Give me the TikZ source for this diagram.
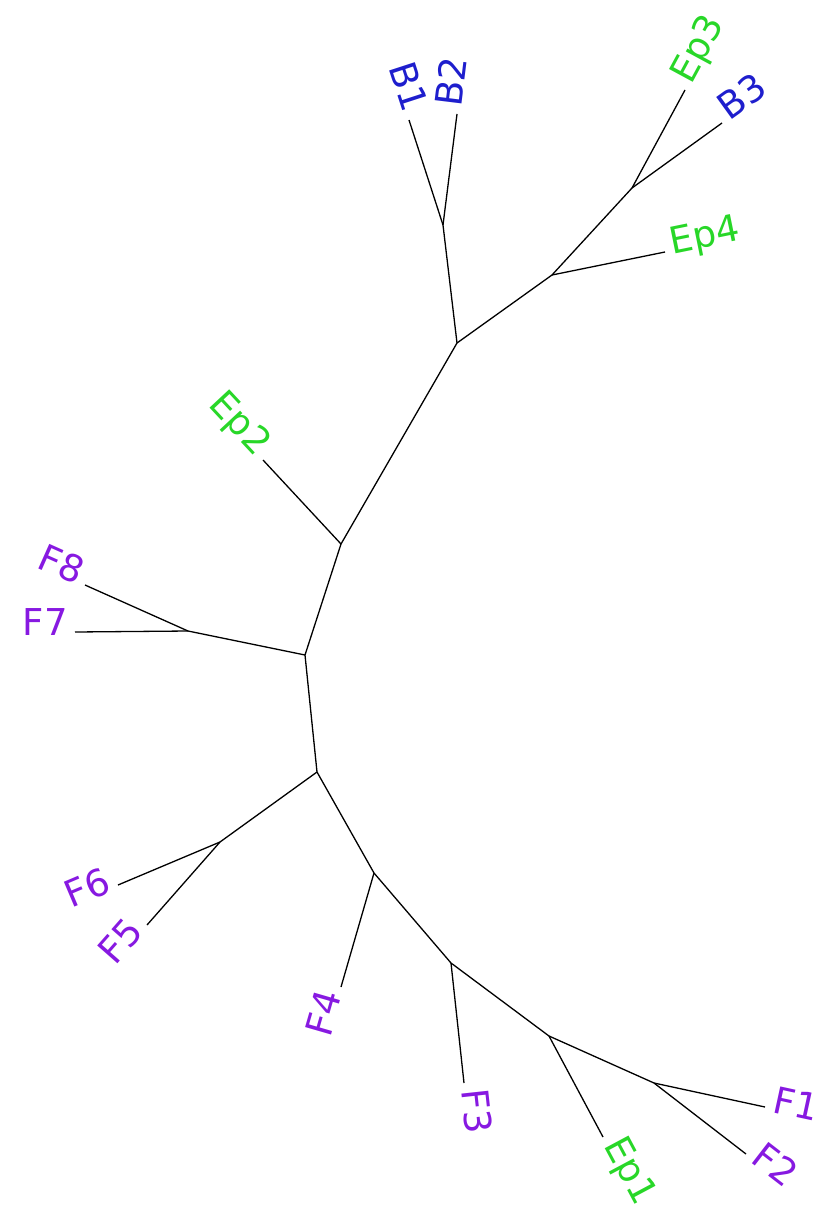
\documentclass[tikz,border=0pt]{standalone}
\usepackage{fontspec}
\setmainfont{DejaVu Sans}
\definecolor{bclr}{RGB}{30,30,205}
\definecolor{epclr}{RGB}{40,215,40}
\definecolor{fclr}{RGB}{135,25,225}
\tikzset{
  branch/.style={line width=1.3pt, black},
  leaf/.style={font=\fontsize{37}{44}\selectfont, inner sep=7pt, text height=0.73em, text depth=0pt}
}
\begin{document}
\begin{tikzpicture}[x=1pt, y=-1pt]
  \useasboundingbox (0,0) rectangle (825,1215);
  % inner nodes
  \coordinate (root) at (305,655);
  \coordinate (nEp2) at (341,544);
  \coordinate (nB) at (457,343);
  \coordinate (nB12) at (443,225);
  \coordinate (nEp4) at (552,275);
  \coordinate (nEp3) at (632,188);
  \coordinate (nF78) at (188,631);
  \coordinate (nLow) at (317,772);
  \coordinate (nF56) at (220,842);
  \coordinate (nF4) at (374,873);
  \coordinate (nF3) at (451,963);
  \coordinate (nEp1) at (549,1036);
  \coordinate (nF12) at (654,1083);
  % tips
  \coordinate (tB1) at (409,120);
  \coordinate (tB2) at (457,114);
  \coordinate (tEp3) at (685,90);
  \coordinate (tB3) at (722,123);
  \coordinate (tEp4) at (665,252);
  \coordinate (tEp2) at (263,460);
  \coordinate (tF8) at (85,585);
  \coordinate (tF7) at (75,632);
  \coordinate (tF6) at (118,885);
  \coordinate (tF5) at (147,925);
  \coordinate (tF4) at (341,987);
  \coordinate (tF3) at (464,1083);
  \coordinate (tEp1) at (603,1137);
  \coordinate (tF2) at (746,1154);
  \coordinate (tF1) at (765,1107);
  % branches
  \draw[branch] (nLow) -- (root) -- (nEp2) -- (nB) -- (nEp4) -- (nEp3) -- (tEp3);
  \draw[branch] (nB) -- (nB12) -- (tB1);
  \draw[branch] (nB12) -- (tB2);
  \draw[branch] (nEp3) -- (tB3);
  \draw[branch] (nEp4) -- (tEp4);
  \draw[branch] (nEp2) -- (tEp2);
  \draw[branch] (root) -- (nF78) -- (tF8);
  \draw[branch] (nF78) -- (tF7);
  \draw[branch] (nLow) -- (nF56) -- (tF6);
  \draw[branch] (nF56) -- (tF5);
  \draw[branch] (nLow) -- (nF4) -- (nF3) -- (nEp1) -- (nF12) -- (tF1);
  \draw[branch] (nF4) -- (tF4);
  \draw[branch] (nF3) -- (tF3);
  \draw[branch] (nEp1) -- (tEp1);
  \draw[branch] (nF12) -- (tF2);
  % labels
  \foreach \n/\r/\an/\c in {B1/-72/east/bclr, B2/83/west/bclr, Ep3/61.6/west/epclr,
      B3/35.8/west/bclr, Ep4/11.5/west/epclr, Ep2/-47/east/epclr, F8/-24/east/fclr,
      F7/0/east/fclr, F6/23/east/fclr, F5/48.7/east/fclr, F4/73.9/east/fclr,
      F3/-83.8/west/fclr, Ep1/-61.9/west/epclr, F2/-37.7/west/fclr, F1/-12.2/west/fclr}
    \node[leaf, text=\c, rotate=\r, anchor=\an] (l\n) at (t\n) {\n};
\end{tikzpicture}
\end{document}
